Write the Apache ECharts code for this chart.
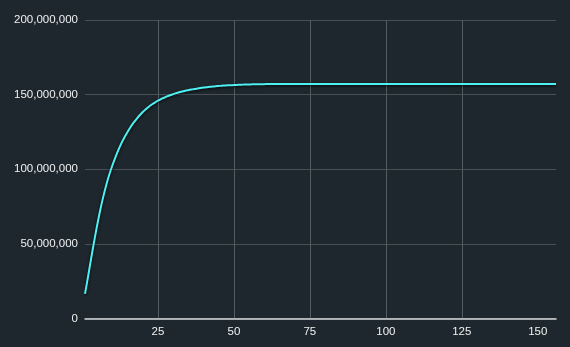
<!DOCTYPE html>
<html>
<head>
<meta charset="utf-8">
<script src="https://cdn.jsdelivr.net/npm/echarts@6/dist/echarts.min.js"></script>
<style>
html,body{margin:0;padding:0;background:#1d272d;}
#chart{width:570px;height:347px;}
</style>
</head>
<body>
<div id="chart"></div>
<script>
// Days (x values)
const days = [
  1,2,3,4,5,6,7,8,9,10,11,12,13,14,15,16,17,18,19,20,
  21,22,23,24,25,26,27,28,29,30,31,32,33,34,35,36,37,38,39,40,
  41,42,43,44,45,46,47,48,49,50,51,52,53,54,55,56,57,58,59,60,
  61,62,63,64,65,66,67,68,69,70,71,72,73,74,75,76,77,78,79,80,
  81,82,83,84,85,86,87,88,89,90,91,92,93,94,95,96,97,98,99,100,
  101,102,103,104,105,106,107,108,109,110,111,112,113,114,115,116,117,118,119,120,
  121,122,123,124,125,126,127,128,129,130,131,132,133,134,135,136,137,138,139,140,
  141,142,143,144,145,146,147,148,149,150,151,152,153,154,155,156
];
// Values in millions
const valuesMillions = [
  16.5,28,40,51.5,62.5,72.5,81.5,89.5,96.5,102.5,108,113,117.5,121.5,125,128.3,131.2,133.8,136.2,138.3,
  140.2,141.9,143.4,144.7,145.9,147,147.9,148.8,149.6,150.3,151,151.6,152.1,152.6,153,153.4,153.8,154.1,154.4,154.7,
  155,155.2,155.4,155.6,155.8,156.0,156.1,156.2,156.3,156.4,156.5,156.6,156.7,156.8,156.8,156.9,156.9,157.0,157.0,157.0,
  157.1,157.1,157.1,157.1,157.1,157.2,157.2,157.2,157.2,157.2,157.2,157.2,157.2,157.2,157.2,157.2,157.2,157.2,157.2,157.2,
  157.2,157.2,157.2,157.2,157.2,157.2,157.2,157.2,157.2,157.2,157.2,157.2,157.2,157.2,157.2,157.2,157.2,157.2,157.2,157.2,
  157.2,157.2,157.2,157.2,157.2,157.2,157.2,157.2,157.2,157.2,157.2,157.2,157.2,157.2,157.2,157.2,157.2,157.2,157.2,157.2,
  157.2,157.2,157.2,157.2,157.2,157.2,157.2,157.2,157.2,157.2,157.2,157.2,157.2,157.2,157.2,157.2,157.2,157.2,157.2,157.2,
  157.2,157.2,157.2,157.2,157.2,157.2,157.2,157.2,157.2,157.2,157.2,157.2,157.2,157.2,157.2,157.2
];
const xTicks = [25,50,75,100,125,150];
const yTicks = [0,50000000,100000000,150000000,200000000];

const seriesData = days.map((d, i) => [d, valuesMillions[i] * 1e6]);

const chart = echarts.init(document.getElementById('chart'), null, {renderer:'canvas'});
chart.setOption({
  backgroundColor: '#1d272d',
  animation: false,
  textStyle: { fontFamily: 'Liberation Sans, Arial, sans-serif' },
  grid: { left: 85, right: 14, top: 20, bottom: 28.5, containLabel: false },
  xAxis: {
    type: 'value',
    min: days[0],
    max: days[days.length - 1],
    axisLine: { show: true, lineStyle: { color: '#d4d8da', width: 1.5 } },
    axisTick: { show: false, customValues: xTicks },
    axisLabel: { customValues: xTicks, color: '#f0f0f0', fontSize: 11.5, margin: 7 },
    splitLine: { show: true, showMinLine: true, showMaxLine: false, lineStyle: { color: '#535c61', width: 1 } }
  },
  yAxis: {
    type: 'value',
    min: yTicks[0],
    max: yTicks[yTicks.length - 1],
    interval: yTicks[1] - yTicks[0],
    axisLine: { show: false },
    axisTick: { show: false },
    axisLabel: {
      color: '#f0f0f0', fontSize: 11.5, margin: 7,
      formatter: v => Number(v).toLocaleString('en-US')
    },
    splitLine: { show: true, lineStyle: { color: '#475055', width: 1 } }
  },
  series: [{
    type: 'line',
    data: seriesData,
    showSymbol: false,
    smooth: 0.3,
    lineStyle: {
      color: '#4ff0f2', width: 2,
      shadowColor: 'rgba(0,0,0,0.9)', shadowBlur: 3, shadowOffsetY: 1
    }
  }]
});
</script>
</body>
</html>
